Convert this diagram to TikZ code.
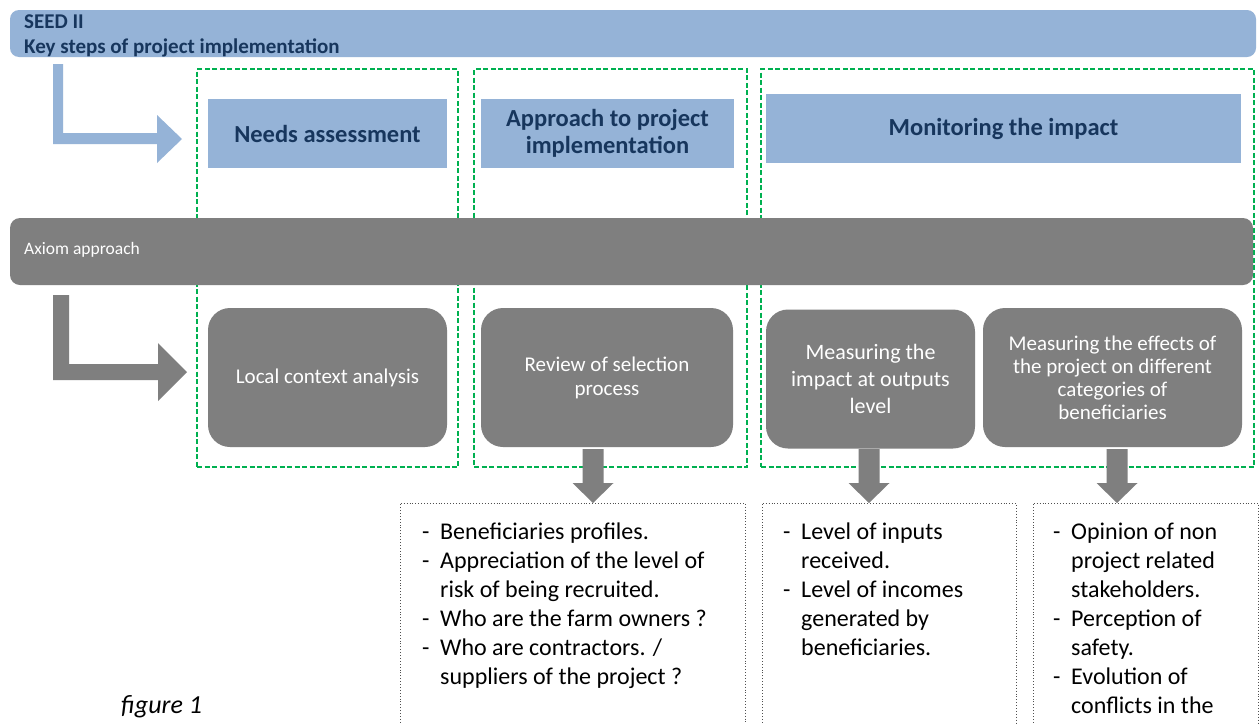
\documentclass[tikz,border=0pt]{standalone}
\usepackage{fontspec}
\setmainfont{Carlito}
\usetikzlibrary{calc}
\definecolor{hdrblue}{HTML}{95B3D7}
\definecolor{navy}{HTML}{17365D}
\definecolor{boxgray}{HTML}{7F7F7F}
\definecolor{grn}{HTML}{00B050}
\definecolor{dotgray}{HTML}{505050}
\newcommand{\dsh}{\makebox[18pt][l]{-}}
\newcommand{\ind}{\hspace*{18pt}}
\tikzset{
  lbluebox/.style={fill=hdrblue, draw=none, inner sep=0pt, text=navy, align=center,
    font=\bfseries\fontsize{24.5}{27}\selectfont},
  graybox/.style={fill=boxgray, draw=none, rounded corners=22pt, inner sep=0pt,
    text=white, align=center, minimum height=139pt},
  phasebox/.style={draw=grn, line width=1.8pt, dash pattern=on 5pt off 2.5pt},
  notebox/.style={draw=dotgray, line width=0.9pt, dotted},
  bullettext/.style={anchor=base west, align=left, inner sep=0pt,
    font=\fontsize{24}{29}\selectfont},
  blockarrow/.style={fill=boxgray, draw=none},
}
\begin{document}
\begin{tikzpicture}[x=1pt,y=-1pt]
\useasboundingbox (0,0) rectangle (1260,723);
\clip (0,0) rectangle (1260,723);
\fill[white] (0,0) rectangle (1260,723);

% header bar
\node[fill=hdrblue, rounded corners=9pt, minimum width=1246pt, minimum height=47pt, inner sep=0pt] (hdr) at (633,33.5) {};
\node[anchor=base west, inner sep=0pt, text=navy, align=left, font=\bfseries\fontsize{21}{25}\selectfont] (hdrtxt) at (24,53) {SEED II\\Key steps of project implementation};

% light blue L arrow
\fill[hdrblue] (53,64) -- (63,64) -- (63,133) -- (157,133) -- (157,115) -- (182,139) -- (157,163) -- (157,144) -- (53,144) -- cycle;

% phase boxes
\node[phasebox, minimum width=261pt, minimum height=398pt, inner sep=0pt] (g1) at (327.5,268) {};
\node[phasebox, minimum width=273pt, minimum height=398pt, inner sep=0pt] (g2) at (610.5,268) {};
\node[phasebox, minimum width=493pt, minimum height=398pt, inner sep=0pt] (g3) at (1007.5,268) {};

% blue step boxes
\node[lbluebox, minimum width=239pt, minimum height=69pt] (needs) at (327.5,133.5) {Needs assessment};
\node[lbluebox, minimum width=253pt, minimum height=69pt] (appr) at (607.5,133.5) {Approach to project\\implementation};
\node[lbluebox, minimum width=475pt, minimum height=69pt] (moni) at (1003.5,128.5) {Monitoring the impact};

% axiom bar
\node[fill=boxgray, rounded corners=10pt, minimum width=1243pt, minimum height=67pt, inner sep=0pt] (axiom) at (631.5,251.5) {};
\node[anchor=west, inner sep=0pt, text=white, font=\fontsize{17.5}{20}\selectfont] (axtxt) at (24,250) {Axiom approach};

% gray L arrow
\fill[boxgray] (53,295) -- (69,295) -- (69,364) -- (158,364) -- (158,343) -- (187,372) -- (158,401) -- (158,380) -- (53,380) -- cycle;

% gray boxes
\node[graybox, minimum width=239pt, font=\fontsize{21}{24}\selectfont] (local) at (327.5,377.5) {Local context analysis};
\node[graybox, minimum width=252pt, font=\fontsize{21}{24}\selectfont] (review) at (607,377.5) {Review of selection\\process};
\node[graybox, minimum width=209pt, font=\fontsize{22}{27}\selectfont] (impact) at (870.5,379) {Measuring the\\impact at outputs\\level};
\node[graybox, minimum width=259pt, font=\fontsize{21}{23}\selectfont] (effects) at (1112.5,377.5) {Measuring the effects of\\the project on different\\categories of\\beneficiaries};

% note boxes
\draw[notebox] (400,740) -- (400,503) -- (745,503) -- (745,740);
\draw[notebox] (762,740) -- (762,503) -- (1016,503) -- (1016,740);
\draw[notebox] (1033,740) -- (1033,503) -- (1258,503) -- (1258,740);

% down block arrows
\foreach \cx/\nm in {593/a1, 869/a2, 1117/a3}{
  \coordinate (\nm) at (\cx,503);
  \fill[blockarrow] ($(\nm)+(-10.5,-54)$) -- ($(\nm)+(10.5,-54)$) -- ($(\nm)+(10.5,-20)$) -- ($(\nm)+(20.5,-20)$) -- (\nm) -- ($(\nm)+(-20.5,-20)$) -- ($(\nm)+(-10.5,-20)$) -- cycle;
}

% note texts (anchored at the baseline of their last line)
\node[bullettext] (n1) at (422,684) {\dsh Beneficiaries profiles.\\\dsh Appreciation of the level of\\\ind risk of being recruited.\\\dsh Who are the farm owners ?\\\dsh Who are contractors. /\\\ind suppliers of the project ?};
\node[bullettext] (n2) at (783,655) {\dsh Level of inputs\\\ind received.\\\dsh Level of incomes\\\ind generated by\\\ind beneficiaries.};
\node[bullettext] (n3) at (1053,713) {\dsh Opinion of non\\\ind project related\\\ind stakeholders.\\\dsh Perception of\\\ind safety.\\\dsh Evolution of\\\ind conflicts in the};

% caption
\node[anchor=base west, inner sep=0pt, font=\itshape\fontsize{26}{30}\selectfont] (fig) at (121,713) {figure 1};
\end{tikzpicture}
\end{document}
